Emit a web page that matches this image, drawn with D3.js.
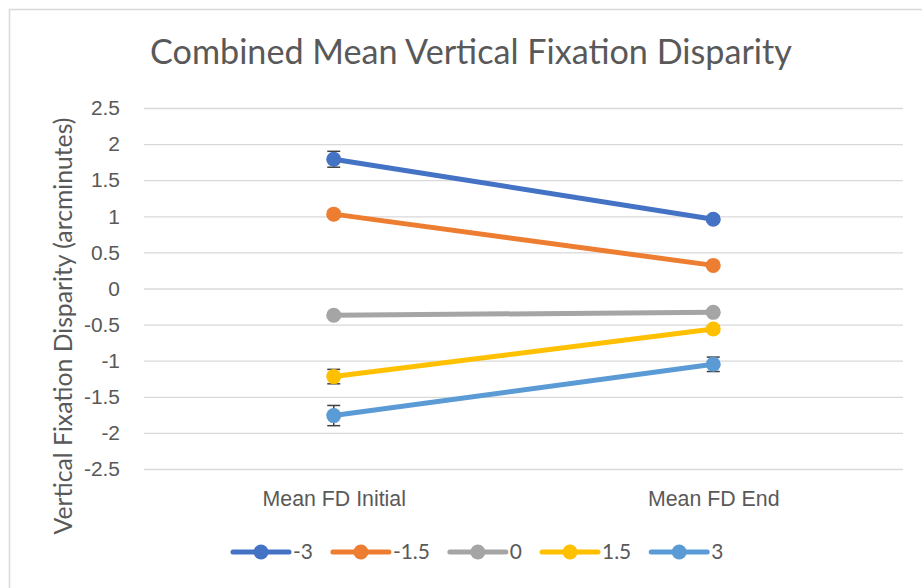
<!DOCTYPE html>
<html>
<head>
<meta charset="utf-8">
<title>Combined Mean Vertical Fixation Disparity</title>
<script src="https://d3js.org/d3.v7.min.js"></script>
<style>
    body { margin: 0; background: #fff; }
    svg { font-family: Lato, "Open Sans", sans-serif; }
    .axis text { fill: #595959; }
    .grid line { stroke: #d9d9d9; stroke-width: 1.3; }
</style>
</head>
<body>
<svg id="chart"></svg>
<script>
// data
var categories = ["Mean FD Initial", "Mean FD End"];
var seriesNames = ["-3", "-1.5", "0", "1.5", "3"];
var seriesColors = ["#4472C4", "#ED7D31", "#A5A5A5", "#FFC000", "#5B9BD5"];
var valuesM3 = [1.79, 0.96];
var valuesM15 = [1.03, 0.32];
var values0 = [-0.37, -0.33];
var values15 = [-1.22, -0.56];
var values3 = [-1.76, -1.05];
var errM3 = [0.11, 0.04];
var errM15 = [0.04, 0.03];
var err0 = [0.03, 0.03];
var err15 = [0.1, 0.04];
var err3 = [0.14, 0.1];
var yTicks = [-2.5, -2, -1.5, -1, -0.5, 0, 0.5, 1, 1.5, 2, 2.5];

var allValues = [valuesM3, valuesM15, values0, values15, values3];
var allErrs = [errM3, errM15, err0, err15, err3];
var series = seriesNames.map(function(name, i) {
    return {
        name: name,
        color: seriesColors[i],
        points: categories.map(function(c, j) {
            return { cat: c, v: allValues[i][j], e: allErrs[i][j] };
        })
    };
});

var svgWidth = 922, svgHeight = 588;
var margin = { top: 108, right: 19, bottom: 119, left: 144 };
var width = svgWidth - margin.left - margin.right,
    height = svgHeight - margin.top - margin.bottom;

var svg = d3.select("#chart")
    .attr("width", svgWidth)
    .attr("height", svgHeight);

// font size that makes a sample string as wide as it is in the picture
function fitSize(sample, targetWidth) {
    var t = svg.append("text").style("font-size", "20px").text(sample);
    var w = t.node().getComputedTextLength();
    t.remove();
    return 20 * targetWidth / w;
}
var tickSize = fitSize("-2.5", 37);
var catSize = fitSize("Mean FD Initial", 144);
var legendSize = fitSize("-1.5", 37);

// chart area border
svg.append("rect")
    .attr("x", 9.5).attr("y", 9.5)
    .attr("width", svgWidth).attr("height", svgHeight)
    .attr("fill", "#fff")
    .attr("stroke", "#d9d9d9")
    .attr("stroke-width", 1.5);

var chart = svg.append("g")
    .attr("transform", "translate(" + margin.left + "," + margin.top + ")");

var x = d3.scalePoint().domain(categories).range([0, width]).padding(0.5);
var y = d3.scaleLinear().domain([-2.5, 2.5]).range([height, 0]);

// gridlines
chart.append("g")
    .attr("class", "grid")
    .call(d3.axisLeft(y).tickValues(yTicks).tickSize(-width).tickFormat(""))
    .call(function(g) { g.select(".domain").remove(); });

// y axis labels
chart.append("g")
    .attr("class", "axis")
    .call(d3.axisLeft(y).tickValues(yTicks).tickSize(0).tickPadding(24)
        .tickFormat(function(d) { return String(d); }))
    .call(function(g) { g.select(".domain").remove(); })
    .selectAll("text").style("font-size", tickSize + "px");

// category labels
chart.append("g")
    .attr("class", "axis")
    .attr("transform", "translate(0," + height + ")")
    .call(d3.axisBottom(x).tickSize(0).tickPadding(0))
    .call(function(g) { g.select(".domain").remove(); })
    .selectAll("text")
    .attr("y", 30).attr("dy", "0.35em")
    .style("font-size", catSize + "px");

var line = d3.line()
    .x(function(d) { return x(d.cat); })
    .y(function(d) { return y(d.v); });

var sg = chart.selectAll(".series")
    .data(series).enter().append("g")
    .attr("class", "series");

sg.append("path")
    .attr("d", function(d) { return line(d.points); })
    .attr("fill", "none")
    .attr("stroke", function(d) { return d.color; })
    .attr("stroke-width", 5)
    .attr("stroke-linecap", "round");

// error bars
var eb = sg.selectAll(".err")
    .data(function(d) { return d.points; })
    .enter().append("g").attr("class", "err")
    .attr("stroke", "#404040").attr("stroke-width", 1.5);
eb.append("line")
    .attr("x1", function(d) { return x(d.cat); })
    .attr("x2", function(d) { return x(d.cat); })
    .attr("y1", function(d) { return y(d.v - d.e); })
    .attr("y2", function(d) { return y(d.v + d.e); });
eb.append("line")
    .attr("x1", function(d) { return x(d.cat) - 6.5; })
    .attr("x2", function(d) { return x(d.cat) + 6.5; })
    .attr("y1", function(d) { return y(d.v + d.e); })
    .attr("y2", function(d) { return y(d.v + d.e); });
eb.append("line")
    .attr("x1", function(d) { return x(d.cat) - 6.5; })
    .attr("x2", function(d) { return x(d.cat) + 6.5; })
    .attr("y1", function(d) { return y(d.v - d.e); })
    .attr("y2", function(d) { return y(d.v - d.e); });

sg.selectAll(".dot")
    .data(function(d) { return d.points.map(function(p) { return { p: p, color: d.color }; }); })
    .enter().append("circle").attr("class", "dot")
    .attr("cx", function(d) { return x(d.p.cat); })
    .attr("cy", function(d) { return y(d.p.v); })
    .attr("r", 7.5)
    .attr("fill", function(d) { return d.color; });

// title, fitted to the width seen in the picture
svg.append("text")
    .attr("x", 471).attr("y", 64)
    .attr("text-anchor", "middle")
    .attr("fill", "#595959")
    .style("font-size", fitSize("Combined Mean Vertical Fixation Disparity", 642) + "px")
    .text("Combined Mean Vertical Fixation Disparity");

// y axis title
svg.append("text")
    .attr("transform", "translate(72,326) rotate(-90)")
    .attr("text-anchor", "middle")
    .attr("fill", "#595959")
    .style("font-size", fitSize("Vertical Fixation Disparity (arcminutes)", 417) + "px")
    .text("Vertical Fixation Disparity (arcminutes)");

// legend
var legend = svg.append("g").attr("class", "legend");
var lx = 0;
series.forEach(function(s) {
    var item = legend.append("g").attr("transform", "translate(" + lx + ",0)");
    item.append("line")
        .attr("x1", 0).attr("x2", 56)
        .attr("stroke", s.color).attr("stroke-width", 5)
        .attr("stroke-linecap", "round");
    item.append("circle").attr("cx", 28).attr("r", 7.5).attr("fill", s.color);
    var t = item.append("text")
        .attr("x", 60).attr("dy", "0.35em")
        .attr("fill", "#595959")
        .style("font-size", legendSize + "px")
        .text(s.name);
    lx += 60 + t.node().getComputedTextLength() + 20;
});
var legendW = lx - 20;
legend.attr("transform", "translate(" + (232 + 1) + ",552)");
</script>
</body>
</html>
